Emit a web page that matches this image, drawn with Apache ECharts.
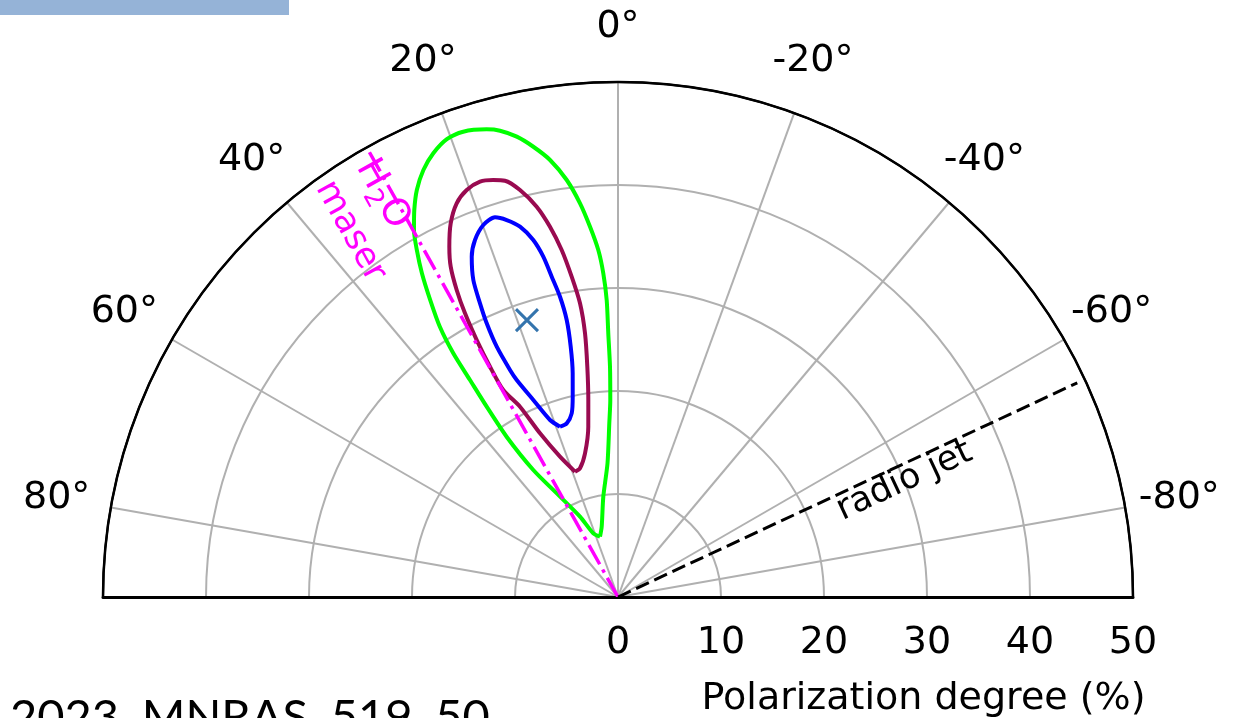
<!DOCTYPE html>
<html>
<head>
<meta charset="utf-8">
<script src="https://cdn.jsdelivr.net/npm/echarts@6/dist/echarts.min.js"></script>
<style>
html,body{margin:0;padding:0;background:#ffffff;}
#chart{width:1235px;height:718px;}
</style>
</head>
<body>
<div id="chart"></div>
<script>
// ---- data: points are [polarization degree (%), polarization angle (deg)] ----
const radialTicks = [0, 10, 20, 30, 40, 50];
const angleTicks = [-80, -60, -40, -20, 0, 20, 40, 60, 80];
const radialTitle = 'Polarization degree (%)';

const contourOuter = [ // green
  [6.11,16.6],[6.63,21.2],[8.63,25.3],[11.25,30.0],[14.82,33.7],[18.95,34.8],[22.45,34.6],
  [25.5,34.3],[28.56,34.05],[31.42,33.4],[34.13,32.3],[36.75,31.2],[38.95,30.1],[40.77,29.07],
  [42.46,27.76],[44.08,26.3],[45.56,24.5],[46.66,22.6],[47.45,20.5],[47.61,18.4],[47.16,15.7],
  [46.7,14.2],[45.76,12.4],[44.48,10.65],[42.94,8.84],[40.79,7.01],[38.4,5.51],[36.05,4.32],
  [33.74,3.25],[31.46,2.6],[28.85,2.18],[25.62,2.11],[22.37,1.99],[19.14,2.24],[16.88,2.87],
  [13.02,4.49],[9.84,8.34],[7.01,13.05],[6.11,16.6]
];
const contourMiddle = [ // maroon
  [12.86,18.94],[14.74,22.46],[17.6,25.48],[20.78,27.25],[22.98,29.0],[25.58,29.06],[28.47,28.8],
  [31.29,28.34],[33.67,27.72],[35.95,26.86],[37.75,25.71],[39.75,24.12],[41.31,22.28],[42.16,20.39],
  [42.49,18.38],[42.25,16.65],[41.88,15.19],[40.64,13.54],[38.71,11.77],[36.55,10.41],[34.13,9.22],
  [31.42,8.23],[28.75,7.37],[25.8,7.13],[22.56,7.59],[19.34,8.57],[16.79,9.89],[14.31,12.93],
  [13.03,16.45],[12.86,18.94]
];
const contourInner = [ // blue
  [17.47,18.81],[18.41,21.01],[20.82,23.26],[23.25,25.02],[24.41,25.44],[27.0,25.85],[29.47,25.63],
  [31.5,25.17],[33.83,24.53],[35.96,23.26],[37.34,21.83],[38.41,19.9],[38.75,17.95],[38.16,16.45],
  [37.19,14.82],[35.62,13.35],[33.83,12.38],[31.76,11.69],[29.69,10.93],[27.35,10.49],[24.73,10.7],
  [22.16,11.45],[19.94,12.74],[18.39,14.15],[17.58,16.45],[17.47,18.81]
];
const peak = [28.3, 18.2];
const maserLine = [[0, 29.2], [50, 29.2]];
const jetLine = [[0, -65], [49.2, -65]];

// ---- layout helpers ----
const CX = 618, CY = 597, R = 515;
const FONT = 'DejaVu Sans';
const FS = 38;
const LABEL_R = 570;      // centre of angle labels (px from centre)
const ANCHOR_R = 440;     // where echarts anchors the labels
const mctx = document.createElement('canvas').getContext('2d');
function textW(t, size) { mctx.font = size + 'px "' + FONT + '"'; return mctx.measureText(t).width; }
function keyOf(v) { return 'a' + (v < 0 ? 'm' + (-v) : String(v)); }
const angleRich = {};
angleTicks.forEach(function (v) {
  const txt = v + '\u00b0';
  const t = v * Math.PI / 180;
  const ux = -Math.sin(t), uy = -Math.cos(t);
  const ax = ANCHOR_R * ux, ay = ANCHOR_R * uy;
  const hA = Math.abs(ax) / R < 0.3 ? 'center' : (ax > 0 ? 'left' : 'right');
  const vA = Math.abs(ay) / R < 0.3 ? 'middle' : (ay > 0 ? 'top' : 'bottom');
  const dx = (LABEL_R - ANCHOR_R) * ux, dy = (LABEL_R - ANCHOR_R) * uy;
  const w = textW(txt, FS), h = FS;
  let pl = 0, pr = 0, pt = 0, pb = 0;
  if (hA === 'center') { if (dx > 0) pl = 2 * dx; else pr = -2 * dx; }
  else if (hA === 'left') pl = dx - w / 2;
  else pr = -dx - w / 2;
  if (vA === 'middle') { if (dy > 0) pt = 2 * dy; else pb = -2 * dy; }
  else if (vA === 'top') pt = dy - h / 2;
  else pb = -dy - h / 2;
  angleRich[keyOf(v)] = {
    fontSize: FS, fontFamily: FONT, color: '#000',
    padding: [Math.max(0, pt), Math.max(0, pr), Math.max(0, pb), Math.max(0, pl)]
  };
});

const gridGray = '#b0b0b0';
const radialSplitColors = radialTicks.map(function (v, i) { return i === radialTicks.length - 1 ? '#000' : gridGray; });
const angleSplitColors = [];
for (let i = 0; i < 11; i++) angleSplitColors.push(i === 0 || i === 10 ? '#000' : gridGray);

const annoLabel = function (text, color, rotate, extra) {
  return Object.assign({ show: true, position: 'inside', formatter: text, rotate: rotate,
    fontSize: 35, fontFamily: FONT, color: color, align: 'center', verticalAlign: 'middle' }, extra || {});
};

const chart = echarts.init(document.getElementById('chart'), null, { renderer: 'canvas' });
const option = {
  animation: false,
  backgroundColor: '#ffffff',
  polar: [
    { center: [CX, CY], radius: R },
    { center: [CX, CY], radius: R }
  ],
  angleAxis: [
    {
      polarIndex: 0, type: 'value', min: -90, max: 90, splitNumber: 9,
      startAngle: 0, endAngle: 180, clockwise: false,
      axisLine: { show: true, lineStyle: { color: '#000', width: 2.5 } },
      axisTick: { show: false },
      splitLine: { show: true, lineStyle: { color: angleSplitColors, width: 2 } },
      axisLabel: {
        show: true, margin: ANCHOR_R - R,
        formatter: function (v) { return angleTicks.indexOf(v) >= 0 ? '{' + keyOf(v) + '|' + v + '\u00b0}' : ''; },
        rich: angleRich
      },
      z: 2
    },
    {
      polarIndex: 1, type: 'value', min: 0, max: 180,
      startAngle: 180, endAngle: 360, clockwise: false, show: false
    }
  ],
  radiusAxis: [
    {
      polarIndex: 0, type: 'value', min: radialTicks[0], max: radialTicks[radialTicks.length - 1], interval: 10,
      axisLine: { show: true, lineStyle: { color: '#000', width: 3 } },
      axisTick: { show: false },
      splitLine: { show: true, lineStyle: { color: radialSplitColors, width: 2 } },
      axisLabel: {
        show: true, margin: -46, verticalAlign: 'middle', align: 'center',
        fontSize: FS, fontFamily: FONT, color: '#000'
      },
      name: radialTitle, nameLocation: 'middle', nameGap: 83,
      nameTextStyle: { fontSize: FS, fontFamily: FONT, color: '#000', padding: [0, 0, 0, 96] },
      z: 3
    },
    {
      polarIndex: 1, type: 'value', min: 0, max: 50,
      axisLine: { show: true, lineStyle: { color: '#000', width: 3 } },
      axisTick: { show: false }, axisLabel: { show: false }, splitLine: { show: false },
      z: 3
    }
  ],
  graphic: [
    { type: 'rect', left: 0, top: 0, shape: { width: 289, height: 15 }, style: { fill: '#95b3d7' }, z: 10 },
    { type: 'text', left: 10, top: 694, style: { text: '2023, MNRAS, 519, 50', font: '47px Lato', fill: '#000' }, z: 10 }
  ],
  series: [
    { type: 'line', coordinateSystem: 'polar', polarIndex: 0, data: contourOuter, showSymbol: false, smooth: 0.25,
      lineStyle: { color: '#00ff00', width: 4 }, silent: true, z: 3 },
    { type: 'line', coordinateSystem: 'polar', polarIndex: 0, data: contourMiddle, showSymbol: false, smooth: 0.25,
      lineStyle: { color: '#990a50', width: 4 }, silent: true, z: 3 },
    { type: 'line', coordinateSystem: 'polar', polarIndex: 0, data: contourInner, showSymbol: false, smooth: 0.25,
      lineStyle: { color: '#0000ff', width: 4 }, silent: true, z: 3 },
    { type: 'scatter', coordinateSystem: 'polar', polarIndex: 0, data: [peak],
      symbol: 'path://M0,0L10,10M10,0L0,10', symbolSize: 22,
      itemStyle: { color: 'none', borderColor: '#3474ad', borderWidth: 3, opacity: 1 }, silent: true, z: 4 },
    { type: 'line', coordinateSystem: 'polar', polarIndex: 0, data: maserLine, showSymbol: false,
      lineStyle: { color: '#ff00ff', width: 3.5, type: [22, 6, 3.5, 6] }, silent: true, z: 5 },
    { type: 'line', coordinateSystem: 'polar', polarIndex: 0, data: jetLine, showSymbol: false,
      lineStyle: { color: '#000', width: 3, type: [14, 6] }, silent: true, z: 5 },
    { type: 'scatter', coordinateSystem: 'polar', polarIndex: 0, symbolSize: 1, silent: true, z: 6,
      itemStyle: { color: 'rgba(0,0,0,0)', opacity: 1 },
      data: [
        { value: [45.3, 30.3], label: annoLabel('{m|H}{s|2}{m|O}', '#ff00ff', -61, {
            rich: {
              m: { fontSize: 37, fontFamily: FONT, color: '#ff00ff' },
              s: { fontSize: 26, fontFamily: FONT, color: '#ff00ff', verticalAlign: 'bottom', padding: [22, 0, 0, 0] }
            } }) },
        { value: [44.0, 36.2], label: annoLabel('maser', '#ff00ff', -61) },
        { value: [30.0, -68.0], label: annoLabel('radio jet', '#000', 25) }
      ]
    }
  ]
};
chart.setOption(option);
</script>
</body>
</html>
